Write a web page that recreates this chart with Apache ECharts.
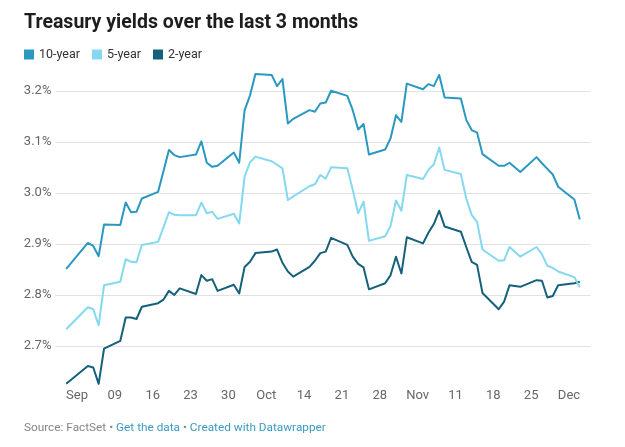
<!DOCTYPE html>
<html><head><meta charset="utf-8">
<script src="https://cdn.jsdelivr.net/npm/echarts@6/dist/echarts.min.js"></script>
<style>html,body{margin:0;padding:0;background:#fff}#c{width:625px;height:447px}</style>
</head><body><div id="c"></div>
<script>
const seriesNames = ['10-year', '5-year', '2-year'];
const tradingDates = [
 '2018-08-31',
 '2018-09-04','2018-09-05','2018-09-06','2018-09-07',
 '2018-09-10','2018-09-11','2018-09-12','2018-09-13','2018-09-14',
 '2018-09-17','2018-09-18','2018-09-19','2018-09-20','2018-09-21',
 '2018-09-24','2018-09-25','2018-09-26','2018-09-27','2018-09-28',
 '2018-10-01','2018-10-02','2018-10-03','2018-10-04','2018-10-05',
 '2018-10-08','2018-10-09','2018-10-10','2018-10-11','2018-10-12',
 '2018-10-15','2018-10-16','2018-10-17','2018-10-18','2018-10-19',
 '2018-10-22','2018-10-23','2018-10-24','2018-10-25','2018-10-26',
 '2018-10-29','2018-10-30','2018-10-31','2018-11-01','2018-11-02',
 '2018-11-05','2018-11-06','2018-11-07','2018-11-08','2018-11-09',
 '2018-11-12','2018-11-13','2018-11-14','2018-11-15','2018-11-16',
 '2018-11-19','2018-11-20','2018-11-21','2018-11-23',
 '2018-11-26','2018-11-27','2018-11-28','2018-11-29','2018-11-30',
 '2018-12-03','2018-12-04'
];
const yield10 = [
 2.851,
 2.902,2.896,2.876,2.938,
 2.937,2.981,2.962,2.963,2.989,
 3.002,3.043,3.084,3.074,3.070,
 3.075,3.101,3.059,3.051,3.053,
 3.079,3.059,3.162,3.191,3.233,
 3.231,3.209,3.223,3.136,3.145,
 3.162,3.159,3.175,3.177,3.200,
 3.190,3.162,3.124,3.135,3.075,
 3.085,3.107,3.152,3.139,3.214,
 3.203,3.213,3.209,3.231,3.187,
 3.185,3.143,3.123,3.118,3.076,
 3.053,3.053,3.059,3.041,
 3.070,3.058,3.047,3.036,3.012,
 2.987,2.948
];
const yield5 = [
 2.733,
 2.776,2.772,2.741,2.819,
 2.826,2.870,2.865,2.864,2.898,
 2.904,2.933,2.962,2.957,2.956,
 2.956,2.981,2.960,2.963,2.949,
 2.959,2.940,3.032,3.060,3.071,
 3.062,3.055,3.048,2.986,2.993,
 3.013,3.017,3.035,3.028,3.050,
 3.048,3.006,2.960,2.983,2.906,
 2.915,2.935,2.985,2.965,3.035,
 3.027,3.045,3.056,3.089,3.045,
 3.037,2.989,2.957,2.943,2.889,
 2.867,2.868,2.894,2.875,
 2.894,2.880,2.857,2.853,2.846,
 2.835,2.815
];
const yield2 = [
 2.626,
 2.661,2.658,2.626,2.695,
 2.710,2.756,2.756,2.753,2.777,
 2.784,2.791,2.808,2.800,2.813,
 2.802,2.839,2.828,2.831,2.808,
 2.820,2.803,2.855,2.865,2.882,
 2.885,2.889,2.863,2.846,2.836,
 2.855,2.867,2.882,2.885,2.912,
 2.898,2.875,2.861,2.854,2.811,
 2.823,2.839,2.875,2.842,2.913,
 2.901,2.922,2.939,2.965,2.934,
 2.924,2.894,2.865,2.859,2.804,
 2.772,2.787,2.819,2.816,
 2.829,2.828,2.795,2.798,2.819,
 2.823,2.826
];
const monthLabels = ['Jan','Feb','Mar','Apr','May','Jun','Jul','Aug','Sep','Oct','Nov','Dec'];
const axisStartDay = '2018-08-29';
const axisEndDay = '2018-12-06';
const yMin = 2.6, yMax = 3.3, yStep = 0.1;
const colors = ['#2a98c0', '#84d9f0', '#15607a'];

// calendar-day categories so weekends keep their width
const categories = [];
for (let t = Date.parse(axisStartDay + 'T00:00:00Z'); t <= Date.parse(axisEndDay + 'T00:00:00Z'); t += 86400000) {
  categories.push(new Date(t).toISOString().slice(0, 10));
}
function onCalendar(values) {
  const m = {};
  tradingDates.forEach((d, i) => { m[d] = values[i]; });
  return categories.map(c => (c in m ? m[c] : null));
}
function utc(s) { return new Date(s + 'T00:00:00Z'); }

const chart = echarts.init(document.getElementById('c'), null, { renderer: 'canvas' });
const font = 'Roboto, "Noto Sans", sans-serif';
chart.setOption({
  animation: false,
  color: colors,
  textStyle: { fontFamily: font },
  title: [
    { text: 'Treasury yields over the last 3 months', left: 24, top: 13, padding: 0,
      textStyle: { fontSize: 19.5, fontWeight: 'bold', color: '#1d1d1d', fontFamily: font } },
    { text: '{a|Source: FactSet • }{b|Get the data}{a| • }{b|Created with Datawrapper}',
      left: 24, top: 422, padding: 0,
      textStyle: { fontWeight: 'normal', rich: {
        a: { color: '#858585', fontSize: 11.8, fontWeight: 'normal', fontFamily: font },
        b: { color: '#3a9bc3', fontSize: 11.8, fontWeight: 'normal', fontFamily: font } } } }
  ],
  legend: {
    left: 24, top: 48, padding: 0, itemWidth: 10, itemHeight: 10, itemGap: 12,
    icon: 'rect', selectedMode: false,
    textStyle: { color: '#333', fontSize: 12.5, fontFamily: font },
    data: seriesNames
  },
  grid: { left: 55.4, right: 34.4, top: 39.7, bottom: 49.9, containLabel: false },
  xAxis: {
    type: 'category', data: categories, boundaryGap: false,
    axisLine: { show: false }, axisTick: { show: false },
    splitLine: { show: false },
    axisLabel: {
      color: '#666', fontSize: 13, fontFamily: font, margin: -8,
      interval: (idx, val) => utc(val).getUTCDay() === 0,
      formatter: val => { const d = utc(val); const day = d.getUTCDate();
        return day <= 7 ? monthLabels[d.getUTCMonth()] : String(day).padStart(2, '0'); }
    }
  },
  yAxis: {
    type: 'value', min: yMin, max: yMax, interval: yStep,
    axisLine: { show: false }, axisTick: { show: false },
    axisLabel: { color: '#666', fontSize: 13, fontFamily: font, margin: 4,
      showMinLabel: false, showMaxLabel: false,
      formatter: v => v.toFixed(1) + '%' },
    splitLine: { show: true, showMinLine: false, showMaxLine: false,
      lineStyle: { color: '#e2e2e2', width: 1 } }
  },
  series: [yield10, yield5, yield2].map((vals, i) => ({
    name: seriesNames[i], type: 'line', data: onCalendar(vals),
    connectNulls: true, showSymbol: false, symbol: 'none',
    lineStyle: { width: 2, color: colors[i], join: 'round' },
    itemStyle: { color: colors[i] }, z: 3 - i
  }))
});
</script></body></html>
